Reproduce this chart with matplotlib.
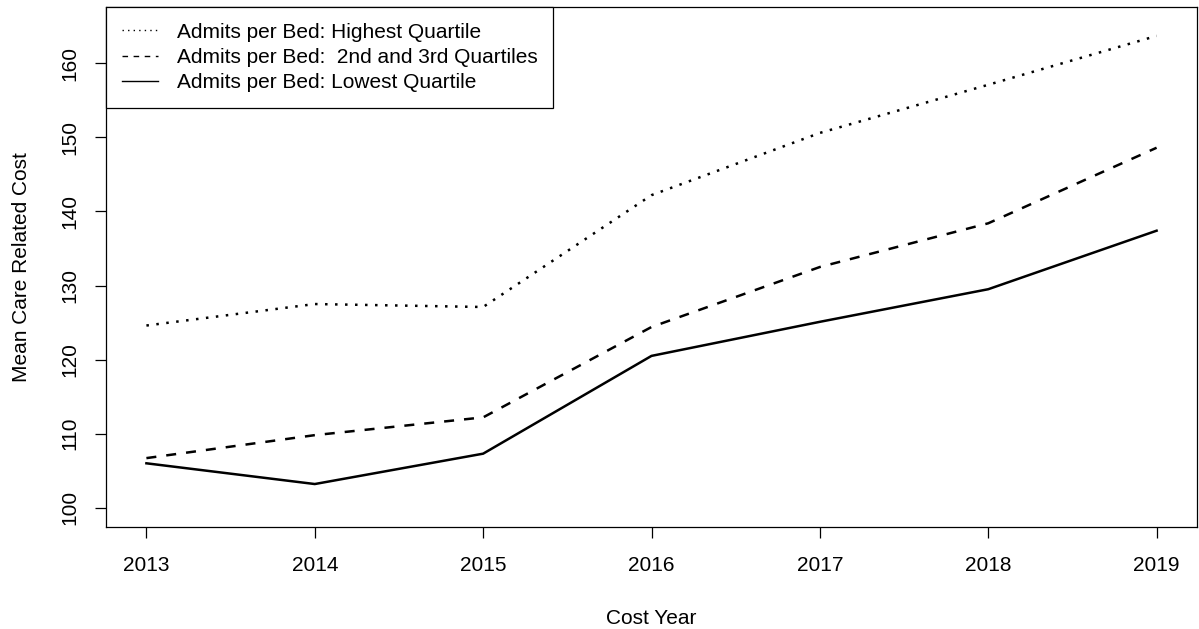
import matplotlib
matplotlib.use("Agg")
import matplotlib.pyplot as plt

years = [2013, 2014, 2015, 2016, 2017, 2018, 2019]
highest = [124.6, 127.5, 127.1, 142.2, 150.6, 157.1, 163.7]
middle = [106.7, 109.8, 112.2, 124.4, 132.5, 138.4, 148.6]
lowest = [106.0, 103.2, 107.3, 120.5, 125.1, 129.5, 137.4]
labels = ["Admits per Bed: Highest Quartile",
          "Admits per Bed:  2nd and 3rd Quartiles",
          "Admits per Bed: Lowest Quartile"]
yticks = [100, 110, 120, 130, 140, 150, 160]

plt.rcParams["font.family"] = ["Liberation Sans", "DejaVu Sans"]
W, H = 1199, 629
fig = plt.figure(figsize=(W / 100, H / 100), dpi=100)
L, R, T, B = 106, 1197, 7, 527
ax = fig.add_axes([L / W, (H - B) / H, (R - L) / W, (B - T) / H])

fs = 15
lw = 1.8
ax.plot(years, highest, color="black", lw=lw, linestyle=(0, (1, 3)),
        dash_capstyle="butt", label=labels[0])
ax.plot(years, middle, color="black", lw=lw, linestyle=(0, (4, 4)),
        dash_capstyle="butt", label=labels[1])
ax.plot(years, lowest, color="black", lw=lw, linestyle="-", label=labels[2])

ax.set_xlim(2013 - 0.24, 2019 + 0.24)
ax.set_ylim(97.4, 167.6)
ax.set_xticks(years)
ax.set_xticklabels([str(y) for y in years])
ax.set_yticks(yticks)
ax.set_yticklabels([str(v) for v in yticks], rotation=90, va="center")

for s in ax.spines.values():
    s.set_linewidth(0.9)
    s.set_color("black")
ax.tick_params(axis="both", length=8, width=0.9, labelsize=fs, color="black")
ax.tick_params(axis="x", pad=13)
ax.tick_params(axis="y", pad=11)

ax.set_xlabel("Cost Year", fontsize=fs, labelpad=24)
ax.set_ylabel("Mean Care Related Cost", fontsize=fs, labelpad=21)

leg_w = (553 - L) / (R - L)
leg = ax.legend(loc="upper left", bbox_to_anchor=(0, 1, leg_w, 0),
                mode="expand", borderaxespad=0,
                fancybox=False, framealpha=1, edgecolor="black",
                fontsize=fs, handlelength=1.75, handletextpad=0.9,
                labelspacing=0.3, borderpad=0.75)
leg.get_frame().set_linewidth(0.9)
for h in leg.get_lines():
    h.set_linewidth(1.0)

fig.savefig("out.png", dpi=100)
